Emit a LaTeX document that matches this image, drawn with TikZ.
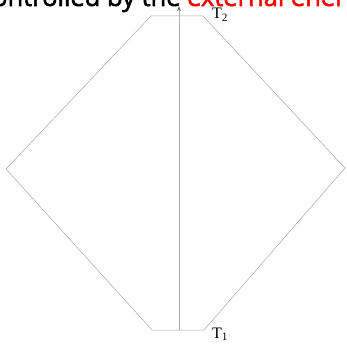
\documentclass[tikz,border=0pt]{standalone}
\usepackage{xcolor}
\usepackage{fontspec}
\setmainfont{Open Sans}
\newfontfamily\titlefont[FakeBold=2]{Open Sans}
\newfontfamily\labelfont{Liberation Serif}
\usepackage{tikz}
\usetikzlibrary{arrows.meta,calc}
\definecolor{edgegray}{HTML}{A8A8A8}
\definecolor{shaftgray}{HTML}{B0B0B0}

\begin{document}
\begin{tikzpicture}[x=1pt,y=-1pt]
  \useasboundingbox (0,0) rectangle (347,344);
  \clip (0,0) rectangle (347,344);
  \node[anchor=base west,inner sep=0pt,font=\titlefont\fontsize{25.5}{25.5}\selectfont] (title) at (-8,6)
    {ontrolled by the \textcolor{red}{external ener}};
  \draw[edgegray,line width=0.5pt] (151,16) -- (203,16) -- (345,168) -- (204,330)
    -- (152,330) -- (6,169) -- cycle;
  \coordinate (bot) at (179,330);
  \coordinate (top) at (179,6);
  \draw[-{Stealth[length=5pt,width=3.5pt,color=gray!80!black]},shaftgray,line width=0.5pt] (bot) -- (top);
  \node[anchor=base west,inner sep=0pt,font=\labelfont\fontsize{16}{16}\selectfont] (t2) at (212,19) {T\textsubscript{2}};
  \node[anchor=base west,inner sep=0pt,font=\labelfont\fontsize{16}{16}\selectfont] (t1) at (212,338) {T\textsubscript{1}};
\end{tikzpicture}
\end{document}
